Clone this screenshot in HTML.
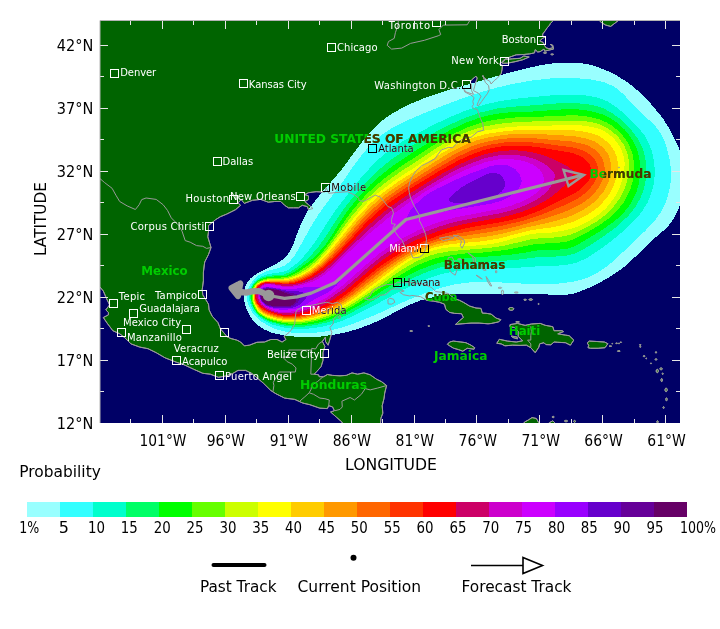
<!DOCTYPE html>
<html lang="en"><head><meta charset="utf-8"><title>Wind Speed Probability</title>
<style>html,body{margin:0;padding:0;background:#fff}svg{display:block}text{font-family:'DejaVu Sans','Liberation Sans',sans-serif}</style>
</head><body>
<svg width="720" height="629" viewBox="0 0 720 629">
<defs>
<clipPath id="mapclip"><rect x="100.0" y="20.5" width="580.0" height="402.5"/></clipPath>
<clipPath id="light"><path clip-rule="evenodd" d="M321.3,336.5 L300,337.1 L284,335.6 L271.7,332.6 L264.7,329.7 L258.7,325.7 L254.5,322 L251.3,318 L249.3,315 L246.2,308.7 L244.4,302 L243.9,298.3 L243.9,292.3 L245,287.3 L247.5,282 L250.2,278.7 L253.4,276 L259.3,272.3 L277.7,263 L283.7,258.7 L286.4,256 L290,251.3 L292.7,246 L298.6,229.7 L303.8,218 L308.2,210.3 L313.9,202.3 L323.9,190 L333.3,179.4 L341.7,169.4 L360.7,143.7 L366.9,136 L377.3,125.2 L382.2,120.7 L387.3,116.7 L393.7,112.6 L408.7,104.6 L426.7,97.2 L446.7,90.6 L495,76.6 L515,71.1 L536.7,66 L548.3,63.9 L557.3,62.9 L572.3,62.5 L584.3,63.6 L591,65 L598.3,67.2 L613.3,73.5 L626,81.3 L634.7,87.9 L641,93.5 L649.3,101.9 L662.1,117.3 L668.2,126.7 L674.4,138.3 L678.4,147 L681.2,155.7 L683.4,165.3 L684.5,174.3 L684.1,188.3 L681.2,201.7 L678.9,208 L674.7,216.7 L671.5,222 L666,228.5 L652.9,239.7 L628,263.8 L619,270.9 L608.3,277.7 L600.3,282.3 L590.7,287.1 L582,290.7 L573.7,293.5 L565.3,295.1 L553,295.1 L547.7,294.5 L527.3,293.5 L506.3,293.8 L468.7,293.5 L448,294.5 L436,296.3 L419.7,300.7 L409.3,305 L378.3,320.7 L373,323.2 L360.3,328 L349.3,331.5 L336,334.4 L321.3,336.5Z M296,318 L286.7,318.1 L277,316.7 L267,313.4 L263.3,311.4 L260.3,309.1 L256.4,304 L255.2,301.3 L254.5,298.7 L254.7,292 L255.8,288.3 L257.6,285.3 L261,283 L266.3,281.6 L287.7,281.8 L293.3,280.8 L301,278.2 L311.3,272.7 L320.4,265.7 L330.7,255.8 L361,220.9 L371.3,210.3 L382,200.9 L389.7,195.1 L407.3,183.2 L416.3,177.8 L433,167 L455.7,153.6 L469.3,147.2 L478,144.1 L489.7,141 L502,138.9 L510.7,138.2 L518.7,137.8 L533,138.2 L571.7,141.5 L581.7,143.6 L587.7,145.5 L593.7,148.7 L598.8,153.3 L601.9,157.7 L603.3,161 L604.3,164.7 L604.7,168.7 L604.5,171.3 L603.2,178.3 L599.7,186 L598,188.7 L594.1,193.3 L589.4,198 L582.6,203 L576,206.7 L565.7,211.4 L549.7,217.1 L519,225.7 L502.7,229.7 L490.3,232 L452.7,237.6 L438,241.3 L426.3,245.2 L417.7,248.9 L407.7,254 L398,259.9 L381.3,271.6 L352.7,294.4 L343,301 L333,306.9 L325,310.7 L314.3,314.6 L302,317.4 L296,318Z"/></clipPath>
</defs>
<rect width="720" height="629" fill="#ffffff"/>
<g clip-path="url(#mapclip)">
<rect x="100.0" y="20.5" width="580.0" height="402.5" fill="#000066"/>
<path d="M99.5,17.6 L554,17.6 L553.7,20.1 L550.3,23.6 L549.6,25.1 L547.1,27.9 L545.2,30.8 L542.7,34 L542.7,36.2 L545,37.1 L542.1,38.7 L539.8,40.9 L543.3,42.5 L544.6,45.6 L546.1,47.8 L549,48.7 L552.8,47.8 L551.8,44.9 L550,44.4 L552.8,45.3 L553.5,49.1 L549,50.1 L544.6,51.2 L544,49.1 L540.2,51.6 L537.7,52 L535.2,49.7 L534.5,52.9 L529.5,53.9 L523.8,54.5 L516.3,54.8 L511.2,56.6 L506.8,58.2 L503.3,60.4 L501.8,62.3 L499.3,64.2 L502.4,65.2 L502.1,69.2 L501.2,73.6 L497.4,78.1 L494.2,80.6 L491.1,84 L489.8,81.2 L486.1,79.3 L482.9,76.8 L482.9,75.5 L484.2,79.3 L485.4,82.5 L488.6,85.6 L489.2,90 L487.3,93.8 L484.8,97 L481.7,101.4 L478.5,105.8 L477,105.2 L478.5,101.4 L481,96.3 L478.5,93.2 L473.5,90.7 L474.7,86.2 L476,81.8 L477.2,78.1 L476,76.2 L472.2,79.3 L470.3,81.8 L471.6,85.6 L471.6,90.7 L473.5,94.4 L465.9,91.9 L464,89.4 L464.7,91.9 L471,95.1 L474.1,97.6 L472.8,101.4 L473.5,104.5 L472.2,106.4 L473.5,108.7 L477.2,109.3 L479.1,114.6 L480.4,118.4 L482.9,124 L483.5,130.3 L477.9,131.6 L471,137.3 L468.4,137.5 L462.1,139.2 L455.2,144.8 L452.7,147.7 L448.3,147.4 L441.4,149.9 L437.6,154.9 L435.1,158.7 L428.1,162.5 L421.9,165.6 L416.2,170.7 L412.4,176.3 L409.9,182 L408.6,187.7 L409.3,192.7 L410.5,197.8 L413.7,205.3 L418.1,212.9 L420,216 L419.3,220.4 L422.5,226.7 L425.6,234.3 L426.5,239.3 L425.6,246.9 L425,250.7 L422.5,255.1 L419.3,257.2 L413,258 L409.9,250.1 L404.9,246.9 L402.3,240.6 L398.6,236.8 L396,233 L392.9,228 L395.4,224.2 L391.6,223.6 L391.6,219.2 L393.5,212.9 L391.6,207.8 L387.9,206.6 L384.1,201.5 L380.3,197.1 L375.3,195.2 L371.5,197.1 L363.9,201.3 L358.9,200.5 L358.9,198.4 L355.1,195.2 L347.6,191.7 L336.2,192.5 L328.7,193.3 L326.2,187.7 L324.9,192.1 L316.1,191.7 L308.5,192.7 L304.8,194.6 L308.5,195.9 L308.5,199.6 L304.8,201.5 L308.5,204.7 L313,208.5 L308.5,209.7 L307.3,206.6 L302.2,205.3 L298.5,207.8 L293.4,207.8 L288.4,207.8 L284.6,205.3 L280.8,201.5 L274.6,201.5 L268.3,202.2 L260.7,199.4 L252.5,200.3 L244.3,203.4 L241.2,199.6 L238,202.8 L240.6,205.3 L235.5,209.7 L226.7,214.1 L220.4,216.7 L215.4,219.8 L211.6,223 L208.5,225.5 L208.5,231.8 L207.8,236.8 L209.7,243.1 L211,247.5 L208.5,254.5 L204.7,262 L203.4,272.1 L203.4,280.9 L202.2,289.7 L202.8,294.8 L205.9,299.8 L208.5,304.2 L209.1,309.9 L212.2,316.2 L217.9,322.5 L220.4,328.8 L224.2,333.2 L227.3,337 L231.1,338.6 L236.8,340.1 L240.6,342 L244.3,345.8 L249.4,345.2 L256.9,342.3 L264.5,342 L270.8,339.5 L277.1,339.5 L282.1,342 L285.9,339.5 L284,336.4 L289,332.6 L292.2,328.8 L294.7,323.8 L295.3,317.5 L296,311.8 L297.2,309.9 L303.5,306.4 L312.3,305.2 L319.9,303.6 L326.2,302.3 L332.5,303.6 L337.5,302.3 L341.3,304.9 L341.9,308.6 L338.8,313.7 L333.7,318.7 L333.1,323.8 L329.9,327.5 L331.8,332.6 L329.3,341.4 L328.1,345.2 L325.5,341.4 L325.5,337 L322.4,341.4 L324.9,346.4 L323,352.7 L323,360.3 L321.1,366.6 L316.7,371.6 L314.2,374.2 L318.6,374.8 L319.2,376.7 L323.7,376.7 L327.4,374.5 L332.5,375.4 L340,375.8 L346.3,375.4 L352,372.9 L357.6,374.2 L363.9,372.9 L370.2,374.8 L376.5,379.2 L381.6,381.7 L386.6,385.5 L384.7,393.1 L384.1,398.1 L382.2,405.7 L382.8,413.2 L380.9,418.3 L380.3,425.8 L343.8,425.8 L341.9,422 L336.2,417 L330.6,412 L334.4,410.7 L332.5,406.9 L328.7,405.7 L327.4,408.6 L319.9,408.2 L309.8,404.7 L302.9,403.1 L294.7,399.4 L284.6,398.1 L275.8,393.7 L270.8,390.5 L263.2,383 L251.9,373.5 L245.6,370.4 L238,370.4 L233,373.3 L225.4,376.1 L218.5,377.3 L210.3,374.2 L202.8,373.3 L193.3,369.1 L183.9,364.7 L176.3,362.2 L165,357.8 L156.2,352.7 L148,348.7 L139.8,347.1 L131,343.9 L124.7,337.6 L119.7,333.8 L112.8,330.7 L107.1,323.1 L103.3,317.5 L108.4,314.9 L108.4,312.4 L105.8,309.9 L109.6,304.9 L106.5,298.6 L103.3,291 L99.5,286.6Z M502.1,62.9 L505.6,59.5 L512.5,58.8 L520.1,58.3 L523.8,56 L529.2,57 L522.6,59.8 L515,61.7 L507.5,63.2 L502.4,63.3Z M598.1,17.6 L600.6,22 L605.7,25.1 L610.7,26.4 L615.7,22.6 L622,17.6Z M364.6,298.9 L370.2,296 L372.8,290.4 L377.8,287.5 L386.6,284.7 L394.2,284.1 L397.3,282.6 L406.7,282.8 L411.8,282.2 L415.6,283.8 L420.6,283.4 L426.9,285.3 L431.9,287.8 L435.7,291.6 L442,292.3 L448.3,293.5 L454.6,298.6 L459.6,300.4 L463.4,302.3 L469.7,306.1 L476,308 L481,308.4 L482.3,313.1 L486.1,313.3 L491.1,314.1 L496.1,318.1 L500.8,319.7 L498.7,321.9 L491.1,323.5 L488,323.8 L479.1,323.1 L471,323.1 L462.1,323.8 L455.5,324.4 L459.6,320.6 L463.4,317.5 L461.5,313.7 L454.6,313.4 L449.6,312.4 L445.8,309.3 L444.5,304.2 L439.5,302.3 L433.2,301.1 L426.9,300.4 L420.6,296.7 L411.8,295.4 L409.9,296 L403.6,294.8 L399.8,292.3 L404.2,291 L397.9,288.7 L391.6,289.1 L385.3,294.8 L380.3,295.2 L375.9,298.3 L370.2,300.2Z M387.9,299.8 L389.7,298.2 L393.5,299.2 L394.8,302.3 L391.6,304.2 L388.1,303.9Z M447.4,344.3 L449.6,342 L453.3,341.1 L460.9,342 L465.9,342.7 L471,345.2 L474.7,347.7 L474.1,349.2 L467.2,348.3 L462.8,351.2 L458.4,349.6 L453.3,348.1 L449.6,345.8Z M510,324.6 L517.5,323.4 L525.1,325.4 L531.4,324 L540.2,323.4 L545.2,325.3 L552.8,326.7 L554,330.7 L562.2,330.7 L563.5,331.6 L557.8,333.8 L565.4,335.1 L569.2,335.7 L573.8,340.1 L570.4,345.2 L565.4,342.7 L557.8,342.3 L554,342 L550.9,344.8 L545.9,344.6 L544,342.7 L539.6,343.9 L538.9,347.1 L535.2,352.7 L530.8,347.7 L526.4,345.2 L520.1,345.4 L512.5,345.2 L504.9,345.8 L501.2,343.9 L496.8,343.3 L499.3,339.3 L507.5,341.1 L516.3,342 L522.6,340.8 L518.2,336.4 L518.2,331.3 L514.4,327.5 L510,326.9Z M511.2,336 L516.9,337 L517.5,338.9 L512.5,337.4Z M587.2,343 L589.3,341.1 L596.9,341.5 L604.4,342 L607.9,343.7 L605,347.7 L598.1,348.3 L590.6,348.3 L588,347.7 L588.7,345.2Z M522.6,425.8 L524.5,422 L528.2,420.1 L532,417.6 L536.4,418.5 L538.7,422.7 L536.4,425.8Z M549,425.8 L549.3,422.7 L552.8,420.8 L555.3,423.3 L554.7,425.8Z M554.2,417 L554,416.6 L553.5,416.4 L552.8,416.4 L552.3,416.6 L552.1,417 L552.3,417.4 L552.8,417.6 L553.5,417.6 L554,417.4Z M567.6,421 L567.3,420.6 L566.5,420.4 L565.5,420.4 L564.7,420.6 L564.4,421 L564.7,421.4 L565.5,421.7 L566.5,421.7 L567.3,421.4Z M575.5,421.4 L575.3,420.8 L574.8,420.4 L574.3,420.4 L573.9,420.8 L573.7,421.4 L573.9,422 L574.3,422.4 L574.8,422.4 L575.3,422Z M658.2,421.8 L658.1,421.2 L657.8,420.8 L657.3,420.8 L657,421.2 L656.8,421.8 L657,422.4 L657.3,422.8 L657.8,422.8 L658.1,422.4Z M664.2,407.6 L664.1,407 L663.8,406.7 L663.4,406.7 L663.1,407 L663,407.6 L663.1,408.1 L663.4,408.4 L663.8,408.4 L664.1,408.1Z M667.2,399.4 L667,398.5 L666.7,397.9 L666.3,397.9 L665.9,398.5 L665.8,399.4 L665.9,400.2 L666.3,400.8 L666.7,400.8 L667,400.2Z M667.2,389.9 L667,388.9 L666.5,388.2 L665.7,388.2 L665.2,388.9 L665,389.9 L665.2,390.9 L665.7,391.6 L666.5,391.6 L667,390.9Z M662.4,380.1 L662.3,379.1 L661.9,378.6 L661.5,378.6 L661.1,379.1 L661,380.1 L661.1,381 L661.5,381.6 L661.9,381.6 L662.3,381Z M658.3,371 L658.1,370 L657.6,369.3 L657,369.3 L656.4,370 L656.2,371 L656.4,372 L657,372.7 L657.6,372.7 L658.1,372Z M662.4,368.9 L662.1,368.3 L661.5,368 L660.7,368 L660,368.3 L659.7,368.9 L660,369.4 L660.7,369.7 L661.5,369.7 L662.1,369.4Z M663.3,373.8 L663.2,373.4 L662.9,373.2 L662.5,373.2 L662.2,373.4 L662.1,373.8 L662.2,374.1 L662.5,374.4 L662.9,374.4 L663.2,374.1Z M651.3,363.4 L651.3,363.1 L651.1,362.9 L650.9,362.9 L650.7,363.1 L650.6,363.4 L650.7,363.8 L650.9,364 L651.1,364 L651.3,363.8Z M656.9,359.4 L656.7,359 L656.3,358.7 L655.8,358.7 L655.3,359 L655.1,359.4 L655.3,359.8 L655.8,360.1 L656.3,360.1 L656.7,359.8Z M656.6,352.4 L656.5,351.9 L656.2,351.7 L655.8,351.7 L655.5,351.9 L655.4,352.4 L655.5,352.8 L655.8,353 L656.2,353 L656.5,352.8Z M644.9,356.1 L644.8,355.8 L644.3,355.6 L643.8,355.6 L643.4,355.8 L643.2,356.1 L643.4,356.5 L643.8,356.7 L644.3,356.7 L644.8,356.5Z M646.6,358.4 L646.6,358.2 L646.3,358 L646.1,358 L645.9,358.2 L645.8,358.4 L645.9,358.7 L646.1,358.8 L646.3,358.8 L646.6,358.7Z M640.9,346.8 L640.8,346.5 L640.5,346.3 L640.1,346.3 L639.8,346.5 L639.7,346.8 L639.8,347.1 L640.1,347.3 L640.5,347.3 L640.8,347.1Z M641.1,344.9 L640.9,344.7 L640.5,344.6 L640,344.6 L639.6,344.7 L639.5,344.9 L639.6,345.1 L640,345.3 L640.5,345.3 L640.9,345.1Z M620.3,351.1 L620,350.8 L619.3,350.7 L618.5,350.7 L617.7,350.8 L617.5,351.1 L617.7,351.4 L618.5,351.5 L619.3,351.5 L620,351.4Z M617.5,343.3 L617.3,343.1 L616.9,343 L616.3,343 L615.9,343.1 L615.7,343.3 L615.9,343.5 L616.3,343.6 L616.9,343.6 L617.3,343.5Z M619.5,343.4 L619.4,343.2 L619.2,343.1 L618.8,343.1 L618.6,343.2 L618.5,343.4 L618.6,343.6 L618.8,343.8 L619.2,343.8 L619.4,343.6Z M621.5,342.3 L621.3,342.1 L621,342 L620.6,342 L620.2,342.1 L620.1,342.3 L620.2,342.4 L620.6,342.5 L621,342.5 L621.3,342.4Z M611.6,346.2 L611.4,346 L610.7,345.9 L609.9,345.9 L609.3,346 L609,346.2 L609.3,346.4 L609.9,346.5 L610.7,346.5 L611.4,346.4Z M612.7,343.7 L612.6,343.5 L612.4,343.4 L612.1,343.4 L611.9,343.5 L611.8,343.7 L611.9,343.8 L612.1,343.9 L612.4,343.9 L612.6,343.8Z M412.5,331.1 L412.2,330.8 L411.6,330.6 L410.7,330.6 L410.1,330.8 L409.8,331.1 L410.1,331.3 L410.7,331.5 L411.6,331.5 L412.2,331.3Z M429.7,326 L429.5,325.9 L429.1,325.8 L428.5,325.8 L428.1,325.9 L427.9,326 L428.1,326.2 L428.5,326.3 L429.1,326.3 L429.5,326.2Z M340.5,317.1 L340.4,316 L339.9,315.4 L339.4,315.4 L338.9,316 L338.8,317.1 L338.9,318.1 L339.4,318.8 L339.9,318.8 L340.4,318.1Z M513.9,308.9 L513.4,308.1 L512.1,307.6 L510.4,307.6 L509.1,308.1 L508.6,308.9 L509.1,309.7 L510.4,310.2 L512.1,310.2 L513.4,309.7Z M526.4,299.8 L526.2,299.5 L525.5,299.3 L524.7,299.3 L524,299.5 L523.8,299.8 L524,300.1 L524.7,300.3 L525.5,300.3 L526.2,300.1Z M532.5,299.6 L532.2,299.2 L531.3,298.9 L530.2,298.9 L529.3,299.2 L529,299.6 L529.3,300 L530.2,300.2 L531.3,300.2 L532.2,300Z M538.9,304 L538.8,303.6 L538.7,303.3 L538.5,303.3 L538.3,303.6 L538.2,304 L538.3,304.4 L538.5,304.6 L538.7,304.6 L538.8,304.4Z M518.2,292.5 L517.8,292.2 L516.9,292 L515.7,292 L514.7,292.2 L514.3,292.5 L514.7,292.8 L515.7,293 L516.9,293 L517.8,292.8Z M503.5,292.3 L503.3,291 L502.8,290.2 L502.1,290.2 L501.6,291 L501.4,292.3 L501.6,293.6 L502.1,294.4 L502.8,294.4 L503.3,293.6Z M501.7,287.8 L501.3,287.5 L500.5,287.3 L499.4,287.3 L498.5,287.5 L498.1,287.8 L498.5,288.2 L499.4,288.4 L500.5,288.4 L501.3,288.2Z M519.3,321.9 L519,321.7 L518.1,321.5 L517,321.5 L516.1,321.7 L515.8,321.9 L516.1,322.1 L517,322.2 L518.1,322.2 L519,322.1Z M619.5,167.5 L619.4,167.3 L619.1,167.2 L618.7,167.2 L618.4,167.3 L618.3,167.5 L618.4,167.7 L618.7,167.9 L619.1,167.9 L619.4,167.7Z M546.5,52.9 L546.2,52.5 L545.4,52.4 L544.5,52.4 L543.8,52.5 L543.5,52.9 L543.8,53.2 L544.5,53.4 L545.4,53.4 L546.2,53.2Z M553.5,54.4 L553.2,54.1 L552.6,54 L551.8,54 L551.1,54.1 L550.8,54.4 L551.1,54.6 L551.8,54.8 L552.6,54.8 L553.2,54.6Z" fill="#006400" stroke="#999999" stroke-width="1" stroke-linejoin="round"/>
<g shape-rendering="crispEdges">
<path d="M321.3,336.5 L300,337.1 L284,335.6 L271.7,332.6 L264.7,329.7 L258.7,325.7 L254.5,322 L251.3,318 L249.3,315 L246.2,308.7 L244.4,302 L243.9,298.3 L243.9,292.3 L245,287.3 L247.5,282 L250.2,278.7 L253.4,276 L259.3,272.3 L277.7,263 L283.7,258.7 L286.4,256 L290,251.3 L292.7,246 L298.6,229.7 L303.8,218 L308.2,210.3 L313.9,202.3 L323.9,190 L333.3,179.4 L341.7,169.4 L360.7,143.7 L366.9,136 L377.3,125.2 L382.2,120.7 L387.3,116.7 L393.7,112.6 L408.7,104.6 L426.7,97.2 L446.7,90.6 L495,76.6 L515,71.1 L536.7,66 L548.3,63.9 L557.3,62.9 L572.3,62.5 L584.3,63.6 L591,65 L598.3,67.2 L613.3,73.5 L626,81.3 L634.7,87.9 L641,93.5 L649.3,101.9 L662.1,117.3 L668.2,126.7 L674.4,138.3 L678.4,147 L681.2,155.7 L683.4,165.3 L684.5,174.3 L684.1,188.3 L681.2,201.7 L678.9,208 L674.7,216.7 L671.5,222 L666,228.5 L652.9,239.7 L628,263.8 L619,270.9 L608.3,277.7 L600.3,282.3 L590.7,287.1 L582,290.7 L573.7,293.5 L565.3,295.1 L553,295.1 L547.7,294.5 L527.3,293.5 L506.3,293.8 L468.7,293.5 L448,294.5 L436,296.3 L419.7,300.7 L409.3,305 L378.3,320.7 L373,323.2 L360.3,328 L349.3,331.5 L336,334.4 L321.3,336.5Z" fill="#99ffff"/>
<path d="M308.3,333.4 L301.7,333.5 L295.7,333.1 L286.7,332 L279,330.1 L270.7,327.2 L260,320.7 L255.7,316.5 L252.2,312.3 L248.1,304.3 L247,300.3 L246.6,297 L247.4,291.3 L249,286.7 L250.6,283.7 L254.6,278.7 L259.7,274.4 L268.7,270.5 L279.3,267.8 L284,265.9 L287.7,263.3 L290.8,260.3 L293.8,256.7 L297,251.7 L312.4,224 L318.3,214.7 L326.9,202.7 L343.7,180.3 L350.6,170 L359.9,157.3 L368.3,147.2 L374.3,141.2 L383.7,133.5 L392.7,127.6 L400,123.8 L412.7,118 L437.7,107.6 L460,99.2 L483.7,91.3 L497.3,87.5 L512,84.1 L531,80.6 L550,78.5 L567,77.9 L580.3,78.5 L592.3,79.6 L605.7,82.7 L613.3,86.3 L618.3,89.6 L623.1,94 L642,113.5 L654.1,124.7 L659.1,131 L660.9,134 L664.2,140.7 L666.4,146.3 L669.4,158.7 L670.5,166.3 L670.8,172.7 L670.5,183 L669.7,188.7 L667,199 L663.7,207 L661.7,210.9 L655.8,219.3 L645.3,230.8 L612.8,261.7 L604.7,268 L596.7,273.4 L591,276.2 L583.3,279.3 L573.3,281.7 L557,283.8 L534.3,284.2 L495.7,282.2 L478.3,282.2 L469,282.5 L455,284.3 L442.3,287.3 L426.3,292.6 L407.7,300.1 L374.7,315.2 L353,323.8 L342.3,327.4 L329.7,330.7 L323.7,331.8 L308.3,333.4Z" fill="#33ffff"/>
<path d="M304.7,329 L294,328.8 L287,328.1 L277.7,326.1 L272,324.4 L266.3,321.8 L258.3,316.4 L253.3,310.5 L250.7,305 L249.6,301.3 L248.9,296.7 L249.3,292.3 L250.3,288.3 L251.8,285 L254.3,281.7 L256.7,279.5 L261.3,276.4 L267.7,274.2 L284,271.7 L289.3,269.2 L296.5,263.7 L304.1,256 L311.7,246.6 L317.7,238 L328.3,221 L336.3,209.3 L350,191.3 L362.2,176.3 L372.1,165.7 L378.9,159 L385,153.7 L393,147.6 L400.7,142.5 L411.9,136 L436.7,123.3 L450.3,117 L463.7,111.4 L472.7,108.2 L488,103.7 L501,100.9 L520.7,98.2 L553,95.2 L571.7,94.5 L586.3,95.5 L596,97.2 L602.7,99.2 L608.7,102 L617.3,107.9 L623.3,112.9 L631,120.2 L640.4,130.3 L644.4,135.3 L647.3,140.2 L651.5,150 L653.8,160.3 L654.5,167.3 L654.5,177.3 L653.7,184 L651.3,193.3 L648,201.7 L642.1,211.3 L638.1,216.3 L634.2,220.7 L623.7,230.8 L610.3,241.8 L601,248.8 L587.5,257.7 L578,262.1 L570.7,264.1 L566.3,264.8 L555.7,265.8 L543.3,265.9 L517.3,267.8 L497.3,268.2 L468.7,269.5 L453,271.6 L442,274 L430.3,277.6 L412.3,285.3 L402.7,289.9 L371.3,307.1 L350.4,317.3 L341.3,321 L330.3,324.6 L323.3,326.4 L313.3,328.1 L304.7,329Z" fill="#00ffcc"/>
<path d="M304,326.7 L292,326.5 L282,325.3 L269.7,321.8 L264.7,319.4 L259.3,315.8 L254.5,310.3 L251.8,304.7 L250.9,301.3 L250.2,297 L250.3,292.7 L251.7,287.3 L253,284.8 L257.4,280.3 L260.5,278.3 L263,277.3 L270.3,275.6 L283.3,274.7 L288.7,272.7 L296.7,267.7 L305.3,260.8 L310.7,255.8 L319,246 L328,233.2 L333.3,224.4 L344.2,208.3 L358.9,190 L367.7,180.4 L377,171.3 L391.7,159.1 L411.3,146 L435.3,132.1 L448,125.5 L465.7,117.6 L480,112.6 L496.7,108.6 L511,106.9 L556.3,103.5 L568.7,103.2 L580,103.5 L588.3,104.3 L597.7,106.4 L604.7,108.9 L613,113.7 L619.7,118.6 L629,127.2 L637.1,137.7 L640,142.5 L643,149.3 L644,152.7 L645.7,161.3 L646.5,170.7 L646.1,177 L645,184.7 L642.6,193 L639.7,199.3 L634.7,208 L632.3,211 L628.4,215.7 L620.1,223.7 L615.3,227.7 L604.7,235.6 L595,242.2 L582.1,250 L574.7,253.5 L566,255.7 L556.3,256.5 L542.3,256.5 L514.3,260.1 L467.7,262.9 L451,265.3 L440,267.6 L428.7,271.3 L413,277.9 L400.3,284.5 L369.7,302.9 L347.3,314.9 L339,318.4 L327.7,322.3 L316,325 L304,326.7Z" fill="#00ff66"/>
<path d="M303.7,325 L293.3,325.2 L287.3,324.8 L277.3,323 L268.3,320.2 L264,318 L259.7,315.1 L254.9,309.7 L252.5,304.3 L251.5,300.7 L250.9,296.3 L250.9,293 L252.3,287.3 L253.7,284.7 L255.3,282.9 L259.3,279.9 L261.3,278.9 L265.3,277.6 L268.3,276.9 L274,276.5 L284,276.4 L288.3,275 L294.2,272 L308.7,261.8 L312.8,258.3 L319,252.2 L325.4,244.7 L331.7,235.7 L337.5,226 L347.5,211 L357.7,198.2 L370.7,184.3 L382,174.2 L395,164.3 L418.4,148.7 L421.7,147 L437.7,137 L450.7,129.8 L467.3,122.1 L480.3,117.5 L490.3,115 L499.7,113.3 L507.7,112.5 L529.3,111.8 L561.3,109.5 L571,109.2 L579,109.5 L589,110.7 L602.3,114.3 L609.7,117.8 L616.7,122.3 L624.8,129.7 L629,135 L633.2,141.3 L635.9,146.7 L638.2,153 L640.1,162.7 L640.5,170 L640.1,176 L638.8,183.7 L636.4,192 L632.4,200.3 L629.3,205.7 L624.3,211.8 L617.5,218.7 L613.3,222.1 L601.7,230.3 L578.7,244.2 L572.3,247.2 L565.7,249.1 L555.3,249.8 L540.3,249.9 L525,252.7 L510.3,254.8 L466.3,258.2 L449.3,260.6 L436.3,263.6 L421.7,268.9 L411,273.8 L398,281 L359.4,305.3 L342.3,314.4 L328.7,319.8 L320.3,322.3 L315,323.4 L303.7,325Z" fill="#00ff00"/>
<path d="M302.3,323.5 L287.7,323.5 L282.7,322.8 L273.3,320.7 L267,318.4 L261.7,315.5 L259.2,313.7 L255.3,308.7 L253,303.7 L252,299.3 L251.8,294 L252.3,290.7 L253.1,287.3 L254.3,285.2 L258.3,281.5 L263.3,279.3 L270,277.9 L284.7,277.4 L289.3,276.2 L294.3,274.1 L298.3,271.9 L307.7,265.7 L314.3,260.2 L323.8,250.3 L334,236.7 L340.3,227 L351,212.3 L361.2,200 L366.5,194.3 L373.7,187.5 L385,178 L398.3,168.2 L434,144.8 L452.3,134.3 L469,126.8 L478.3,123.6 L486.7,121.4 L498,119.3 L515,117.5 L531,117.1 L570,115.3 L578,115.5 L585.7,116.3 L594.7,118 L600.7,119.8 L607.7,123 L613.4,126.7 L621,133.5 L625.3,139 L628.7,144.3 L631,149.7 L632.8,155 L634.1,163.7 L634.2,171.7 L632.5,182 L630.3,189.3 L628.1,194.3 L623.5,202.7 L619,208.4 L613.3,214.3 L608.7,218.4 L599,225.4 L587.3,232.4 L574.7,238.9 L569.3,240.8 L564.7,242 L554,243.1 L536.3,243.9 L509,249.4 L502,250.4 L483,252.5 L465.3,253.5 L451,255.3 L443,256.6 L434,258.8 L429.7,260.2 L418,265.1 L409,269.8 L396,277.7 L358.3,302.9 L345.3,310.3 L337.3,314.1 L327,318.1 L315.7,321.3 L302.3,323.5Z" fill="#66ff00"/>
<path d="M293,322.4 L285.7,322.1 L277.3,320.7 L273.7,319.7 L266.3,317.1 L262.7,315.2 L259.7,312.8 L257,310 L255.3,307 L253.6,303 L252.6,298.7 L252.5,294 L253.2,290 L253.9,287.7 L255.3,285.2 L259.7,281.7 L263.7,280.2 L269,279.2 L283,278.8 L289.7,277.4 L295,275.5 L299.7,273.2 L308.3,267.8 L316.3,261.1 L325.3,251.4 L336.1,237.3 L349.9,218.3 L363.5,202.3 L375.7,190.5 L387.1,181.3 L399.3,172.6 L437.3,147.5 L453.7,137.9 L463.7,133.3 L474,129.4 L485,126.3 L500.7,123.6 L515,122.2 L540.3,121.2 L550.7,121.2 L563.7,120.5 L578.3,120.5 L586,121.3 L593.7,122.7 L599,124.2 L605.3,126.9 L610.7,130.3 L615.8,134.7 L618.7,137.6 L624.1,145.3 L627.7,154.3 L629.2,163.7 L628.7,173.7 L627.3,180.3 L624.7,188.7 L619.3,199.2 L611.8,208.7 L606.7,213.8 L601.3,218.1 L596,221.9 L586,227.7 L576.3,232.4 L570,234.7 L564.7,236.1 L554.3,237.5 L540.3,238.2 L531.7,239.2 L505.3,245.4 L491.3,247.7 L449,251.3 L436.3,253.7 L429,255.9 L416.7,261.3 L406.3,267 L394,275.1 L379.7,285.6 L357.7,300.7 L347.1,307 L337,312.1 L326.3,316.5 L315.7,319.7 L301.3,322.1 L293,322.4Z" fill="#ccff00"/>
<path d="M292.3,321.4 L286,321.1 L274.3,319 L267.3,316.7 L262.3,314.2 L259.5,312 L257,309 L254.9,305 L253.3,299.3 L253.2,294.3 L253.6,291 L254.4,288 L255.9,285.7 L259.3,282.7 L264,280.9 L270.7,279.9 L283.7,279.5 L290.7,278.3 L300.3,274.7 L309,269.7 L317.4,262.7 L322.5,257.3 L328.4,250.3 L344,230 L355.7,215.6 L367.7,202.2 L377.9,193 L395.7,179.7 L417.6,165.7 L439.3,150.7 L455.7,140.9 L465,136.6 L475,133.1 L486.3,130.3 L506,127.3 L527.3,125.8 L577.7,125.2 L583.3,125.6 L592.3,127 L599.7,129.1 L604.3,131.3 L608.3,133.9 L613.8,138.3 L620.4,147.3 L623.4,155 L624.5,161.7 L624.5,165.7 L623.8,173.3 L622.4,179.3 L619.9,187 L614.7,197.2 L609,204.7 L605.5,208.7 L599.6,214 L588.7,221.4 L581.3,225.1 L575,227.7 L563.7,230.7 L552,232.5 L535.7,233.5 L528.7,234.6 L516.3,237.6 L504.3,241.3 L491.3,244 L481.7,245.1 L449,247.3 L439.7,248.7 L427.3,252.2 L422.3,254.3 L411,259.9 L404,264.4 L392,272.9 L379,283 L361,296.1 L345.2,306 L334.3,311.4 L326,314.9 L315.7,318.2 L310,319.4 L299,321.1 L292.3,321.4Z" fill="#ffff00"/>
<path d="M292,320.4 L280.3,319.4 L274.3,318 L266.7,315.4 L262.7,313.3 L259.2,310.7 L255,304.1 L253.5,299 L253.5,294.3 L254,291 L255,287.6 L256.3,285.5 L259.3,283 L264,281.3 L271.3,280.2 L276.3,280.5 L283.7,280.1 L290.3,279.4 L295.7,277.8 L300.7,275.7 L309.7,270.7 L318.4,263.7 L325,256.8 L330.1,251 L357.9,216.7 L370.5,203.3 L379.7,195.2 L397.7,182 L419,168.5 L441.3,153.5 L457.3,144.3 L466,140.3 L476,136.7 L486.7,133.9 L507,130.9 L521.3,129.9 L524.3,130.2 L528,129.8 L546.7,129.8 L560.3,130.5 L565.7,130.2 L575.3,130.5 L581.7,131.3 L590.3,132.9 L598.7,135.9 L602.3,138 L608,142.5 L610.5,145.3 L614.3,150.9 L616.3,155.7 L617.4,160 L617.8,163 L617.8,169 L616.3,177.7 L613.9,185.3 L610.4,192.3 L608.5,195.3 L600.7,204.8 L595,209.7 L585.3,216.1 L573,221.8 L559.7,225.8 L549.7,227.7 L535,229.6 L528,230.9 L498.3,238.7 L480.3,241.5 L462.7,242.9 L447.7,244.6 L435,247.3 L426.7,250.1 L421.3,252.3 L410,257.9 L400.7,263.8 L390.7,270.9 L377.7,281 L355.6,297.3 L345.3,303.9 L337,308.4 L325.7,313.5 L314.7,317.3 L308,318.7 L298.7,320.1 L292,320.4Z" fill="#ffcc00"/>
<path d="M291.7,319.3 L280.3,318.4 L274,316.9 L268.3,315 L264.3,313.1 L259.7,309.7 L255.6,304 L253.9,298.7 L253.9,294.7 L254.4,291 L255.5,287.7 L256.8,285.7 L258.7,284 L261,282.6 L266,281.3 L270,280.8 L283.7,281.1 L288.7,280.7 L292.3,279.9 L300.3,277.2 L310,272 L319.4,264.7 L326.5,257.7 L331.3,252.5 L359.9,218.3 L372.3,205.5 L381,197.9 L388.3,192.3 L405.4,180.7 L443.3,156.5 L454,150.3 L468.3,143.5 L477,140.3 L487.7,137.6 L499.3,135.6 L508,134.5 L529.7,133.8 L539.3,134.5 L542.3,134.2 L575,136.2 L587,138.7 L594,141.1 L598.4,143.7 L604,148.5 L608,154 L610,159 L611.2,165.3 L611.1,170.3 L610.4,175 L608.1,183 L603.7,191.3 L597.3,199.1 L591,204.8 L582,210.7 L569.3,216.6 L557.7,220.4 L546.3,223.3 L527,227.3 L504.3,233.3 L488.3,236.4 L447.7,241.6 L434,245.1 L426,247.8 L421,249.9 L408.3,256.3 L398.7,262.3 L388.2,269.7 L354.3,295.6 L344,302.6 L336,307.1 L324.7,312.4 L314.3,315.9 L300.3,318.8 L291.7,319.3Z" fill="#ff9900"/>
<path d="M296,318 L286.7,318.1 L277,316.7 L267,313.4 L263.3,311.4 L260.3,309.1 L256.4,304 L255.2,301.3 L254.5,298.7 L254.7,292 L255.8,288.3 L257.6,285.3 L261,283 L266.3,281.6 L287.7,281.8 L293.3,280.8 L301,278.2 L311.3,272.7 L320.4,265.7 L330.7,255.8 L361,220.9 L371.3,210.3 L382,200.9 L389.7,195.1 L407.3,183.2 L416.3,177.8 L433,167 L455.7,153.6 L469.3,147.2 L478,144.1 L489.7,141 L502,138.9 L510.7,138.2 L518.7,137.8 L533,138.2 L571.7,141.5 L581.7,143.6 L587.7,145.5 L593.7,148.7 L598.8,153.3 L601.9,157.7 L603.3,161 L604.3,164.7 L604.7,168.7 L604.5,171.3 L603.2,178.3 L599.7,186 L598,188.7 L594.1,193.3 L589.4,198 L582.6,203 L576,206.7 L565.7,211.4 L549.7,217.1 L519,225.7 L502.7,229.7 L490.3,232 L452.7,237.6 L438,241.3 L426.3,245.2 L417.7,248.9 L407.7,254 L398,259.9 L381.3,271.6 L352.7,294.4 L343,301 L333,306.9 L325,310.7 L314.3,314.6 L302,317.4 L296,318Z" fill="#ff6600"/>
<path d="M295.7,317 L286.3,317.1 L275.7,315.3 L267.3,312.4 L264,310.7 L260.7,308.1 L257,303.7 L254.9,298.7 L255,292.3 L256.1,288.7 L257.7,286 L261.3,283.2 L266.7,281.9 L287,282.8 L293.7,281.8 L301.7,279.3 L311.2,274.3 L317.3,270 L325.3,263.4 L332.4,256.7 L344.1,244 L363.2,222.3 L372.9,212.7 L384,203 L392,197.1 L408.3,186.3 L435.7,169.3 L457.2,157 L471.3,150.5 L479.7,147.5 L490,144.7 L506,142.2 L519.3,141.8 L529,142.2 L541.3,143.2 L573.7,147.6 L582.7,150.3 L586.3,152.1 L591,155.5 L594.1,158.7 L595.6,161 L597.7,166.3 L598.1,171 L597.1,176.7 L593.9,183.7 L586.3,192.4 L579.7,197.4 L572.8,201.3 L563.3,205.7 L543,214.1 L522,221 L501,226 L456.3,233.7 L445,236.4 L426.3,242.6 L413.6,248.3 L406,252.3 L395,259 L379.3,270 L347.8,295.3 L341.7,299.7 L330.7,306.4 L322,310.4 L312.3,313.8 L301.3,316.4 L295.7,317Z" fill="#ff3300"/>
<path d="M295.3,316 L286.3,316.1 L279.3,315.3 L268,311.7 L264.3,309.8 L261,307.4 L257.3,303.3 L255.2,298.3 L255.3,292.3 L256.6,288.3 L258,286 L261.7,283.4 L266.7,282.2 L282,283.5 L289.3,283.5 L294,282.7 L302,280.3 L311.7,275.5 L320.7,269.1 L333.7,257.8 L346.1,244.7 L365.5,223.3 L374.3,214.9 L385.6,205.3 L393.4,199.7 L410.3,188.6 L439.3,171 L459,160.1 L473.7,153.6 L482.3,150.5 L490.7,148.3 L502.3,146.2 L518,145.5 L532.3,146.5 L540.7,147.6 L571.3,152.7 L580,155.9 L582,156.9 L587.5,161.7 L590,165.2 L591.7,170 L591.4,174 L590.6,176.7 L588.3,181 L582.3,187.7 L577.3,191.5 L569.7,195.9 L540.7,210 L535,212.5 L520.7,217.6 L505,221.4 L469,227.6 L455.3,230.7 L443.7,233.9 L426.3,240.2 L420.3,242.8 L405,250.3 L386.8,261.7 L378,267.9 L347.3,293.4 L340.6,298.3 L330.3,304.8 L320.7,309.6 L312,312.7 L301.3,315.3 L295.3,316Z" fill="#ff0000"/>
<path d="M290.3,314.7 L282.3,314.5 L275.7,313.2 L268.3,310.5 L265,308.8 L261,305.8 L258.3,302.3 L256.8,299.3 L256.2,297 L256.2,293.7 L256.6,291.7 L257.9,288.3 L259.3,286.2 L263,283.8 L267.3,282.9 L273,283.2 L281.7,284.5 L292.3,284.4 L298.7,283 L302.7,281.7 L313.7,276.7 L321.7,271.3 L332.3,262.1 L369,224.8 L376.7,217.9 L388,208.6 L405,196.6 L426,183.3 L440,174.8 L460,164.1 L473,158.3 L484.3,154.3 L501,150.9 L514.3,150.2 L523,150.9 L531.3,152.2 L539.3,154.1 L545,155.8 L553.7,159.1 L564,164.3 L569,167.3 L573.6,171.3 L573.6,173 L571.7,176.7 L569.1,180.3 L564.4,185.7 L559.7,190.1 L552.3,196 L547,199.7 L538,204.9 L531,208.2 L522.3,211.7 L511.7,215 L499.3,217.8 L468.3,223.2 L455.7,226 L440.7,230.3 L424,236.4 L410,243 L403,246.8 L393.3,252.7 L384.3,258.7 L372,268.2 L345.7,290.7 L330,301.7 L323.7,305.2 L311,310.6 L300.7,313.4 L290.3,314.7Z" fill="#cc0066"/>
<path d="M290.3,313 L282.3,313.1 L277.3,312.4 L273.3,311.3 L268,309 L264.3,306.8 L261.6,304.7 L259.6,302 L257.6,297 L257.7,292 L260,287.2 L261.7,285.6 L263.3,284.6 L265.3,283.9 L268.7,283.6 L281,285.5 L286.7,285.8 L292.3,285.7 L298.3,284.5 L304,282.9 L312,279.8 L316,277.7 L324.7,271.8 L330.2,267 L364.7,233.5 L385,215.6 L397.3,206.3 L410.8,197 L428,186 L449.3,173.6 L461.3,167.5 L469,164.1 L485,158.2 L497.7,155.5 L504,154.9 L513.7,154.8 L519,155.3 L527,156.7 L538,160.3 L543.7,163.3 L548.4,166.7 L553,171.6 L555,174.3 L555.1,176.3 L552.9,182.3 L551.4,185.3 L548.4,189.7 L544,194.4 L539,198.1 L533.3,201.4 L522,206.7 L513.7,209.7 L500.7,213.2 L479,217 L454.7,221.9 L439.3,226.5 L419,234.3 L408,239.7 L400.3,244 L390.3,250.3 L380.3,257.3 L363.3,271.2 L356.8,277.3 L343.3,288.8 L329,299.1 L319,304.7 L310.3,308.5 L300.3,311.5 L290.3,313Z" fill="#cc00cc"/>
<path d="M286,312.1 L277.7,311.5 L272,309.7 L266,306.7 L261.9,303.3 L258.6,297 L258.5,292.7 L260.6,288 L262.3,286.2 L265.3,284.6 L269.3,284.2 L281.7,286.5 L292.7,286.8 L295.3,286.2 L297.7,286.1 L307.7,283.4 L312.7,281.7 L317.3,279.4 L322.8,276 L332,268.5 L348,252.9 L360.3,241.5 L365.3,237.5 L366.7,235.9 L374.3,229.2 L379.3,225.5 L387.3,218.5 L412,200.3 L414.3,199.1 L425.6,191.3 L443,181 L462.7,171 L475.3,165.6 L486.3,161.9 L498.3,159.5 L501.7,159.2 L513,159.2 L515.7,159.8 L518.3,159.9 L525.7,161.6 L533.7,164.9 L539,168.9 L541.1,171.3 L543.1,175.3 L543.5,177 L543.5,181.7 L542.1,186.3 L539.3,190.5 L535.1,194 L530,197.4 L520,202.4 L516,203.6 L512,205.4 L505.3,207.4 L500.3,208.8 L453,217.9 L451.3,218.7 L448.3,219.3 L433.7,223.9 L418.3,230.1 L406,236.3 L396.7,241.6 L389,246.6 L379.2,253.7 L362.3,267.9 L358.3,271.8 L355.8,273.7 L354.7,275.1 L342,286.1 L327.4,297 L314.3,304.4 L308,307.1 L299.7,309.8 L289.3,311.8 L286,312.1Z" fill="#cc00ff"/>
<path d="M412.7,218.7 L408,218.6 L407.2,217 L408.1,214.3 L410.7,210.2 L415.5,204.3 L423.7,197 L429,193.3 L437.3,188.6 L452.3,181.3 L468.3,174.3 L490,166.3 L496.7,164.9 L503.7,164.5 L508,165.3 L515,168.9 L518.8,173 L520,175 L521.5,179.7 L521.5,182 L520,186.3 L519.1,188 L516,191.7 L513.3,194 L511,195.7 L503,200.1 L492.3,203.5 L449.7,210.5 L430,214.5 L412.7,218.7Z M286.7,309.7 L281.7,309.8 L274,308.8 L267.7,307 L265,305.5 L261.6,302 L259.3,297 L258.9,294 L260,290 L260.9,288.7 L263.7,286.9 L266.3,286.5 L279.7,288.5 L287.3,289.2 L295.3,288.8 L305.3,287.2 L310,286.9 L311.7,287.2 L323.3,287.1 L330.5,285 L333.3,283.5 L339.3,279.3 L340.3,278.9 L340.7,279.2 L340.4,280.3 L337.1,285 L332.1,289.7 L327.3,292.7 L314,299.6 L305,305.4 L300.3,307.4 L296.7,308.4 L286.7,309.7Z" fill="#9900ff"/>
<path d="M465.3,203.1 L458,203.2 L452.7,202.5 L450,201.5 L449,200.4 L448.9,199.7 L450,197.3 L452.7,194.5 L460.7,187.9 L467.7,183.6 L487.3,173.9 L491.3,172.9 L496,172.9 L499.3,174.3 L502.7,177.6 L504.7,181.7 L505.1,185 L503.7,189.1 L501.3,191.8 L499,193.7 L493.7,196.7 L487.7,198.7 L473,202.1 L465.3,203.1Z M289,308.4 L276.7,308.1 L269,306.7 L265.3,305.1 L261.6,301.3 L259.6,296.7 L259.5,293.3 L260.6,290.3 L261.3,289.3 L263.3,288.1 L267.3,287.2 L278.3,288.9 L288,290.8 L299,291.5 L306,293.3 L308.2,294.3 L307.7,295.7 L304.3,300.4 L301.1,303.7 L298.5,305.3 L294,307.4 L289,308.4Z" fill="#6600cc"/>
<path d="M291,306.7 L284.3,307.2 L272,306.5 L268.3,305.7 L266,304.7 L262.2,301.3 L260.9,299 L260.2,295.3 L260.2,293.3 L260.9,291.3 L262,290 L263.7,288.9 L267.3,288.2 L269.3,288.2 L277.7,289.6 L286.7,292.1 L294.3,293.6 L297.8,295 L299.5,296.7 L299.8,297.7 L299.1,300.3 L298,302.1 L294.3,305.4 L291,306.7Z" fill="#660099"/>
<path d="M288.7,306.1 L272.3,305.8 L266.3,304.4 L264.3,303.1 L262.7,301.5 L261.3,299 L260.5,296 L260.5,293.7 L261.1,292 L263.3,289.9 L265.3,289.3 L268.3,288.8 L273,289.2 L279,290.6 L295,296.3 L295.7,297 L296.2,298.3 L296.1,300 L295.4,302 L293,304.7 L290.7,305.7 L288.7,306.1Z" fill="#660066"/>
</g>
<g fill="none" stroke="#999999" stroke-width="1" stroke-linejoin="round">
<path d="M99.5,17.6 L554,17.6 L553.7,20.1 L550.3,23.6 L549.6,25.1 L547.1,27.9 L545.2,30.8 L542.7,34 L542.7,36.2 L545,37.1 L542.1,38.7 L539.8,40.9 L543.3,42.5 L544.6,45.6 L546.1,47.8 L549,48.7 L552.8,47.8 L551.8,44.9 L550,44.4 L552.8,45.3 L553.5,49.1 L549,50.1 L544.6,51.2 L544,49.1 L540.2,51.6 L537.7,52 L535.2,49.7 L534.5,52.9 L529.5,53.9 L523.8,54.5 L516.3,54.8 L511.2,56.6 L506.8,58.2 L503.3,60.4 L501.8,62.3 L499.3,64.2 L502.4,65.2 L502.1,69.2 L501.2,73.6 L497.4,78.1 L494.2,80.6 L491.1,84 L489.8,81.2 L486.1,79.3 L482.9,76.8 L482.9,75.5 L484.2,79.3 L485.4,82.5 L488.6,85.6 L489.2,90 L487.3,93.8 L484.8,97 L481.7,101.4 L478.5,105.8 L477,105.2 L478.5,101.4 L481,96.3 L478.5,93.2 L473.5,90.7 L474.7,86.2 L476,81.8 L477.2,78.1 L476,76.2 L472.2,79.3 L470.3,81.8 L471.6,85.6 L471.6,90.7 L473.5,94.4 L465.9,91.9 L464,89.4 L464.7,91.9 L471,95.1 L474.1,97.6 L472.8,101.4 L473.5,104.5 L472.2,106.4 L473.5,108.7 L477.2,109.3 L479.1,114.6 L480.4,118.4 L482.9,124 L483.5,130.3 L477.9,131.6 L471,137.3 L468.4,137.5 L462.1,139.2 L455.2,144.8 L452.7,147.7 L448.3,147.4 L441.4,149.9 L437.6,154.9 L435.1,158.7 L428.1,162.5 L421.9,165.6 L416.2,170.7 L412.4,176.3 L409.9,182 L408.6,187.7 L409.3,192.7 L410.5,197.8 L413.7,205.3 L418.1,212.9 L420,216 L419.3,220.4 L422.5,226.7 L425.6,234.3 L426.5,239.3 L425.6,246.9 L425,250.7 L422.5,255.1 L419.3,257.2 L413,258 L409.9,250.1 L404.9,246.9 L402.3,240.6 L398.6,236.8 L396,233 L392.9,228 L395.4,224.2 L391.6,223.6 L391.6,219.2 L393.5,212.9 L391.6,207.8 L387.9,206.6 L384.1,201.5 L380.3,197.1 L375.3,195.2 L371.5,197.1 L363.9,201.3 L358.9,200.5 L358.9,198.4 L355.1,195.2 L347.6,191.7 L336.2,192.5 L328.7,193.3 L326.2,187.7 L324.9,192.1 L316.1,191.7 L308.5,192.7 L304.8,194.6 L308.5,195.9 L308.5,199.6 L304.8,201.5 L308.5,204.7 L313,208.5 L308.5,209.7 L307.3,206.6 L302.2,205.3 L298.5,207.8 L293.4,207.8 L288.4,207.8 L284.6,205.3 L280.8,201.5 L274.6,201.5 L268.3,202.2 L260.7,199.4 L252.5,200.3 L244.3,203.4 L241.2,199.6 L238,202.8 L240.6,205.3 L235.5,209.7 L226.7,214.1 L220.4,216.7 L215.4,219.8 L211.6,223 L208.5,225.5 L208.5,231.8 L207.8,236.8 L209.7,243.1 L211,247.5 L208.5,254.5 L204.7,262 L203.4,272.1 L203.4,280.9 L202.2,289.7 L202.8,294.8 L205.9,299.8 L208.5,304.2 L209.1,309.9 L212.2,316.2 L217.9,322.5 L220.4,328.8 L224.2,333.2 L227.3,337 L231.1,338.6 L236.8,340.1 L240.6,342 L244.3,345.8 L249.4,345.2 L256.9,342.3 L264.5,342 L270.8,339.5 L277.1,339.5 L282.1,342 L285.9,339.5 L284,336.4 L289,332.6 L292.2,328.8 L294.7,323.8 L295.3,317.5 L296,311.8 L297.2,309.9 L303.5,306.4 L312.3,305.2 L319.9,303.6 L326.2,302.3 L332.5,303.6 L337.5,302.3 L341.3,304.9 L341.9,308.6 L338.8,313.7 L333.7,318.7 L333.1,323.8 L329.9,327.5 L331.8,332.6 L329.3,341.4 L328.1,345.2 L325.5,341.4 L325.5,337 L322.4,341.4 L324.9,346.4 L323,352.7 L323,360.3 L321.1,366.6 L316.7,371.6 L314.2,374.2 L318.6,374.8 L319.2,376.7 L323.7,376.7 L327.4,374.5 L332.5,375.4 L340,375.8 L346.3,375.4 L352,372.9 L357.6,374.2 L363.9,372.9 L370.2,374.8 L376.5,379.2 L381.6,381.7 L386.6,385.5 L384.7,393.1 L384.1,398.1 L382.2,405.7 L382.8,413.2 L380.9,418.3 L380.3,425.8 L343.8,425.8 L341.9,422 L336.2,417 L330.6,412 L334.4,410.7 L332.5,406.9 L328.7,405.7 L327.4,408.6 L319.9,408.2 L309.8,404.7 L302.9,403.1 L294.7,399.4 L284.6,398.1 L275.8,393.7 L270.8,390.5 L263.2,383 L251.9,373.5 L245.6,370.4 L238,370.4 L233,373.3 L225.4,376.1 L218.5,377.3 L210.3,374.2 L202.8,373.3 L193.3,369.1 L183.9,364.7 L176.3,362.2 L165,357.8 L156.2,352.7 L148,348.7 L139.8,347.1 L131,343.9 L124.7,337.6 L119.7,333.8 L112.8,330.7 L107.1,323.1 L103.3,317.5 L108.4,314.9 L108.4,312.4 L105.8,309.9 L109.6,304.9 L106.5,298.6 L103.3,291 L99.5,286.6Z M502.1,62.9 L505.6,59.5 L512.5,58.8 L520.1,58.3 L523.8,56 L529.2,57 L522.6,59.8 L515,61.7 L507.5,63.2 L502.4,63.3Z M598.1,17.6 L600.6,22 L605.7,25.1 L610.7,26.4 L615.7,22.6 L622,17.6Z M364.6,298.9 L370.2,296 L372.8,290.4 L377.8,287.5 L386.6,284.7 L394.2,284.1 L397.3,282.6 L406.7,282.8 L411.8,282.2 L415.6,283.8 L420.6,283.4 L426.9,285.3 L431.9,287.8 L435.7,291.6 L442,292.3 L448.3,293.5 L454.6,298.6 L459.6,300.4 L463.4,302.3 L469.7,306.1 L476,308 L481,308.4 L482.3,313.1 L486.1,313.3 L491.1,314.1 L496.1,318.1 L500.8,319.7 L498.7,321.9 L491.1,323.5 L488,323.8 L479.1,323.1 L471,323.1 L462.1,323.8 L455.5,324.4 L459.6,320.6 L463.4,317.5 L461.5,313.7 L454.6,313.4 L449.6,312.4 L445.8,309.3 L444.5,304.2 L439.5,302.3 L433.2,301.1 L426.9,300.4 L420.6,296.7 L411.8,295.4 L409.9,296 L403.6,294.8 L399.8,292.3 L404.2,291 L397.9,288.7 L391.6,289.1 L385.3,294.8 L380.3,295.2 L375.9,298.3 L370.2,300.2Z M387.9,299.8 L389.7,298.2 L393.5,299.2 L394.8,302.3 L391.6,304.2 L388.1,303.9Z M447.4,344.3 L449.6,342 L453.3,341.1 L460.9,342 L465.9,342.7 L471,345.2 L474.7,347.7 L474.1,349.2 L467.2,348.3 L462.8,351.2 L458.4,349.6 L453.3,348.1 L449.6,345.8Z M510,324.6 L517.5,323.4 L525.1,325.4 L531.4,324 L540.2,323.4 L545.2,325.3 L552.8,326.7 L554,330.7 L562.2,330.7 L563.5,331.6 L557.8,333.8 L565.4,335.1 L569.2,335.7 L573.8,340.1 L570.4,345.2 L565.4,342.7 L557.8,342.3 L554,342 L550.9,344.8 L545.9,344.6 L544,342.7 L539.6,343.9 L538.9,347.1 L535.2,352.7 L530.8,347.7 L526.4,345.2 L520.1,345.4 L512.5,345.2 L504.9,345.8 L501.2,343.9 L496.8,343.3 L499.3,339.3 L507.5,341.1 L516.3,342 L522.6,340.8 L518.2,336.4 L518.2,331.3 L514.4,327.5 L510,326.9Z M511.2,336 L516.9,337 L517.5,338.9 L512.5,337.4Z M587.2,343 L589.3,341.1 L596.9,341.5 L604.4,342 L607.9,343.7 L605,347.7 L598.1,348.3 L590.6,348.3 L588,347.7 L588.7,345.2Z M522.6,425.8 L524.5,422 L528.2,420.1 L532,417.6 L536.4,418.5 L538.7,422.7 L536.4,425.8Z M549,425.8 L549.3,422.7 L552.8,420.8 L555.3,423.3 L554.7,425.8Z M554.2,417 L554,416.6 L553.5,416.4 L552.8,416.4 L552.3,416.6 L552.1,417 L552.3,417.4 L552.8,417.6 L553.5,417.6 L554,417.4Z M567.6,421 L567.3,420.6 L566.5,420.4 L565.5,420.4 L564.7,420.6 L564.4,421 L564.7,421.4 L565.5,421.7 L566.5,421.7 L567.3,421.4Z M575.5,421.4 L575.3,420.8 L574.8,420.4 L574.3,420.4 L573.9,420.8 L573.7,421.4 L573.9,422 L574.3,422.4 L574.8,422.4 L575.3,422Z M658.2,421.8 L658.1,421.2 L657.8,420.8 L657.3,420.8 L657,421.2 L656.8,421.8 L657,422.4 L657.3,422.8 L657.8,422.8 L658.1,422.4Z M664.2,407.6 L664.1,407 L663.8,406.7 L663.4,406.7 L663.1,407 L663,407.6 L663.1,408.1 L663.4,408.4 L663.8,408.4 L664.1,408.1Z M667.2,399.4 L667,398.5 L666.7,397.9 L666.3,397.9 L665.9,398.5 L665.8,399.4 L665.9,400.2 L666.3,400.8 L666.7,400.8 L667,400.2Z M667.2,389.9 L667,388.9 L666.5,388.2 L665.7,388.2 L665.2,388.9 L665,389.9 L665.2,390.9 L665.7,391.6 L666.5,391.6 L667,390.9Z M662.4,380.1 L662.3,379.1 L661.9,378.6 L661.5,378.6 L661.1,379.1 L661,380.1 L661.1,381 L661.5,381.6 L661.9,381.6 L662.3,381Z M658.3,371 L658.1,370 L657.6,369.3 L657,369.3 L656.4,370 L656.2,371 L656.4,372 L657,372.7 L657.6,372.7 L658.1,372Z M662.4,368.9 L662.1,368.3 L661.5,368 L660.7,368 L660,368.3 L659.7,368.9 L660,369.4 L660.7,369.7 L661.5,369.7 L662.1,369.4Z M663.3,373.8 L663.2,373.4 L662.9,373.2 L662.5,373.2 L662.2,373.4 L662.1,373.8 L662.2,374.1 L662.5,374.4 L662.9,374.4 L663.2,374.1Z M651.3,363.4 L651.3,363.1 L651.1,362.9 L650.9,362.9 L650.7,363.1 L650.6,363.4 L650.7,363.8 L650.9,364 L651.1,364 L651.3,363.8Z M656.9,359.4 L656.7,359 L656.3,358.7 L655.8,358.7 L655.3,359 L655.1,359.4 L655.3,359.8 L655.8,360.1 L656.3,360.1 L656.7,359.8Z M656.6,352.4 L656.5,351.9 L656.2,351.7 L655.8,351.7 L655.5,351.9 L655.4,352.4 L655.5,352.8 L655.8,353 L656.2,353 L656.5,352.8Z M644.9,356.1 L644.8,355.8 L644.3,355.6 L643.8,355.6 L643.4,355.8 L643.2,356.1 L643.4,356.5 L643.8,356.7 L644.3,356.7 L644.8,356.5Z M646.6,358.4 L646.6,358.2 L646.3,358 L646.1,358 L645.9,358.2 L645.8,358.4 L645.9,358.7 L646.1,358.8 L646.3,358.8 L646.6,358.7Z M640.9,346.8 L640.8,346.5 L640.5,346.3 L640.1,346.3 L639.8,346.5 L639.7,346.8 L639.8,347.1 L640.1,347.3 L640.5,347.3 L640.8,347.1Z M641.1,344.9 L640.9,344.7 L640.5,344.6 L640,344.6 L639.6,344.7 L639.5,344.9 L639.6,345.1 L640,345.3 L640.5,345.3 L640.9,345.1Z M620.3,351.1 L620,350.8 L619.3,350.7 L618.5,350.7 L617.7,350.8 L617.5,351.1 L617.7,351.4 L618.5,351.5 L619.3,351.5 L620,351.4Z M617.5,343.3 L617.3,343.1 L616.9,343 L616.3,343 L615.9,343.1 L615.7,343.3 L615.9,343.5 L616.3,343.6 L616.9,343.6 L617.3,343.5Z M619.5,343.4 L619.4,343.2 L619.2,343.1 L618.8,343.1 L618.6,343.2 L618.5,343.4 L618.6,343.6 L618.8,343.8 L619.2,343.8 L619.4,343.6Z M621.5,342.3 L621.3,342.1 L621,342 L620.6,342 L620.2,342.1 L620.1,342.3 L620.2,342.4 L620.6,342.5 L621,342.5 L621.3,342.4Z M611.6,346.2 L611.4,346 L610.7,345.9 L609.9,345.9 L609.3,346 L609,346.2 L609.3,346.4 L609.9,346.5 L610.7,346.5 L611.4,346.4Z M612.7,343.7 L612.6,343.5 L612.4,343.4 L612.1,343.4 L611.9,343.5 L611.8,343.7 L611.9,343.8 L612.1,343.9 L612.4,343.9 L612.6,343.8Z M412.5,331.1 L412.2,330.8 L411.6,330.6 L410.7,330.6 L410.1,330.8 L409.8,331.1 L410.1,331.3 L410.7,331.5 L411.6,331.5 L412.2,331.3Z M429.7,326 L429.5,325.9 L429.1,325.8 L428.5,325.8 L428.1,325.9 L427.9,326 L428.1,326.2 L428.5,326.3 L429.1,326.3 L429.5,326.2Z M340.5,317.1 L340.4,316 L339.9,315.4 L339.4,315.4 L338.9,316 L338.8,317.1 L338.9,318.1 L339.4,318.8 L339.9,318.8 L340.4,318.1Z M513.9,308.9 L513.4,308.1 L512.1,307.6 L510.4,307.6 L509.1,308.1 L508.6,308.9 L509.1,309.7 L510.4,310.2 L512.1,310.2 L513.4,309.7Z M526.4,299.8 L526.2,299.5 L525.5,299.3 L524.7,299.3 L524,299.5 L523.8,299.8 L524,300.1 L524.7,300.3 L525.5,300.3 L526.2,300.1Z M532.5,299.6 L532.2,299.2 L531.3,298.9 L530.2,298.9 L529.3,299.2 L529,299.6 L529.3,300 L530.2,300.2 L531.3,300.2 L532.2,300Z M538.9,304 L538.8,303.6 L538.7,303.3 L538.5,303.3 L538.3,303.6 L538.2,304 L538.3,304.4 L538.5,304.6 L538.7,304.6 L538.8,304.4Z M518.2,292.5 L517.8,292.2 L516.9,292 L515.7,292 L514.7,292.2 L514.3,292.5 L514.7,292.8 L515.7,293 L516.9,293 L517.8,292.8Z M503.5,292.3 L503.3,291 L502.8,290.2 L502.1,290.2 L501.6,291 L501.4,292.3 L501.6,293.6 L502.1,294.4 L502.8,294.4 L503.3,293.6Z M501.7,287.8 L501.3,287.5 L500.5,287.3 L499.4,287.3 L498.5,287.5 L498.1,287.8 L498.5,288.2 L499.4,288.4 L500.5,288.4 L501.3,288.2Z M519.3,321.9 L519,321.7 L518.1,321.5 L517,321.5 L516.1,321.7 L515.8,321.9 L516.1,322.1 L517,322.2 L518.1,322.2 L519,322.1Z M619.5,167.5 L619.4,167.3 L619.1,167.2 L618.7,167.2 L618.4,167.3 L618.3,167.5 L618.4,167.7 L618.7,167.9 L619.1,167.9 L619.4,167.7Z M546.5,52.9 L546.2,52.5 L545.4,52.4 L544.5,52.4 L543.8,52.5 L543.5,52.9 L543.8,53.2 L544.5,53.4 L545.4,53.4 L546.2,53.2Z M553.5,54.4 L553.2,54.1 L552.6,54 L551.8,54 L551.1,54.1 L550.8,54.4 L551.1,54.6 L551.8,54.8 L552.6,54.8 L553.2,54.6Z"/>
<path d="M439.5,238.1 L443.3,240.6 L452.1,238.7 L454,237.4 L447,236.8Z M453.3,235.6 L458.4,235.6 L464,240 L464.7,243.1 L462.1,248.2 L460.3,245.6 L461.5,241.2 L457.7,237.4Z M448.3,257.6 L452.1,257 L455.2,263.3 L457.1,269.6 L455.2,275.2 L450.8,272.1 L447,264.5Z M457.7,258.9 L460.9,258.5 L461.1,259.5 L458.4,259.8Z M467.8,252.6 L469.7,253.8 L475.4,258.2 L475.4,263.3 L473.5,262 L472.8,257Z M480.4,263.9 L484.2,267.7 L486.1,270.2 L483.5,270.2 L481,265.8Z M476,275.2 L480.4,278.4 L482.3,279 L477.9,275.9Z M486.1,276.5 L488.6,280.3 L491.7,286 L490.5,286 L487.3,280.9Z M495.5,270.8 L496.8,270.8 L496.8,272.7 L495.5,272.7Z"/>
<path d="M99.5,178.2 L104.6,182.6 L112.1,188.3 L115.9,195.2 L119.7,201.5 L127.2,205.9 L135.4,209.5 L139.2,204.7 L141.7,199.6 L146.1,198 L156.2,199.4 L163.1,204.7 L167.5,210.4 L171.3,217.9 L178.9,225.5 L182,231.1 L185.2,240.6 L190.2,242.2 L196.5,245.6 L202.8,246.3 L206.6,248.4 L211,247.5 M273,391.4 L273.9,385.5 L273.3,382.4 L279,372 L295.3,372 L296,367.9 L292.2,364.1 L287.1,361.6 L282.7,357.1 L288.7,357.1 L288.7,350 L311.7,350 M311.7,350 L311.7,348.3 L315.5,349 L318.6,343.9 L322.4,341.4 M311.7,350 L310.8,374.2 L314.5,374.2 M323.4,376.4 L317.4,381.7 L311.7,384.9 L311.1,389.3 L309.2,392.8 L304.8,396.8 L299.7,401.2 M309.2,392.8 L313.6,394.3 L319.9,398.1 L324.9,398.7 L329.3,400 L328.7,405.7 M335,410.7 L340,409.4 L342.3,406.9 L341.9,401.2 L350.1,397.5 L354.5,400 L361.4,394.3 L365.2,388.6 L370.2,389.9 L377.8,388 L386.6,385.5 M530.8,326.3 L531.4,331.3 L530.8,335.7 L530.8,340.1 L527.6,340.1 L530.8,343.9 L530.8,347.3 M398.6,17.6 L397.9,25.1 L395.4,32.7 L394.2,38.4 L388.5,41.5 L387.2,45.3 L391.6,49.1 L401.7,48.1 L410.5,43.4 L424.4,40.3 L438.2,35.8 L440.7,34.6 L438.9,29.5 L443.3,25.1 L467.2,24.8 L471.6,17.6"/>
</g>
<g fill="none" stroke="#999999" stroke-linejoin="round" stroke-linecap="round">
<path stroke-width="3.2" stroke-linecap="butt" d="M268.6,295.5 L284.5,298.3 L297.2,296.9 L311.2,293.1 L335,282.7 L406,219.5 L582,175.3"/>
<path stroke-width="6.2" d="M240.2,283.6 L231.6,288.1 L238,296 L240.2,283.6 L238,291.5 L246.2,292.6 L252,291.4 L259,291 L268.6,295.5"/>
<path stroke-width="2.4" stroke-linejoin="miter" d="M584,175 L563.5,170 L568.5,186Z"/>
</g>
<circle cx="268.6" cy="295.5" r="5.8" fill="#999999"/>
<g><g fill="none" stroke="#ffffff" stroke-width="1" shape-rendering="crispEdges">
<rect x="110.5" y="69.5" width="8" height="8"/>
<rect x="239.5" y="79.5" width="8" height="8"/>
<rect x="327.5" y="43.5" width="8" height="8"/>
<rect x="432.5" y="18.5" width="8" height="8"/>
<rect x="537.5" y="36.5" width="8" height="8"/>
<rect x="500.5" y="57.5" width="8" height="8"/>
<rect x="462.5" y="80.5" width="8" height="8"/>
<rect x="368.5" y="144.5" width="8" height="8"/>
<rect x="213.5" y="157.5" width="8" height="8"/>
<rect x="229.5" y="195.5" width="8" height="8"/>
<rect x="296.5" y="192.5" width="8" height="8"/>
<rect x="321.5" y="183.5" width="8" height="8"/>
<rect x="205.5" y="222.5" width="8" height="8"/>
<rect x="420.5" y="244.5" width="8" height="8"/>
<rect x="393.5" y="278.5" width="8" height="8"/>
<rect x="302.5" y="306.5" width="8" height="8"/>
<rect x="198.5" y="290.5" width="8" height="8"/>
<rect x="109.5" y="299.5" width="8" height="8"/>
<rect x="129.5" y="309.5" width="8" height="8"/>
<rect x="182.5" y="325.5" width="8" height="8"/>
<rect x="117.5" y="328.5" width="8" height="8"/>
<rect x="220.5" y="328.5" width="8" height="8"/>
<rect x="172.5" y="356.5" width="8" height="8"/>
<rect x="215.5" y="371.5" width="8" height="8"/>
<rect x="320.5" y="349.5" width="8" height="8"/>
</g>
<g fill="#ffffff" font-size="10px">
<text x="120.2" y="75.8" text-anchor="start" textLength="36" lengthAdjust="spacing">Denver</text>
<text x="248.8" y="87.5" text-anchor="start" textLength="57.8" lengthAdjust="spacing">Kansas City</text>
<text x="337" y="51.2" text-anchor="start" textLength="40.5" lengthAdjust="spacing">Chicago</text>
<text x="430" y="28.8" text-anchor="end" textLength="41.25" lengthAdjust="spacing">Toronto</text>
<text x="536.2" y="42.5" text-anchor="end" textLength="34.5" lengthAdjust="spacing">Boston</text>
<text x="498.8" y="64.2" text-anchor="end" textLength="47.5" lengthAdjust="spacing">New York</text>
<text x="461.2" y="88.8" text-anchor="end" textLength="87" lengthAdjust="spacing">Washington D.C.</text>
<text x="378.2" y="152" text-anchor="start" textLength="35.5" lengthAdjust="spacing">Atlanta</text>
<text x="222.5" y="165" text-anchor="start" textLength="30.7" lengthAdjust="spacing">Dallas</text>
<text x="229.2" y="201.8" text-anchor="end" textLength="43.75" lengthAdjust="spacing">Houston</text>
<text x="295.8" y="200" text-anchor="end" textLength="65.75" lengthAdjust="spacing">New Orleans</text>
<text x="331.2" y="191.2" text-anchor="start" textLength="35" lengthAdjust="spacing">Mobile</text>
<text x="204.2" y="229.5" text-anchor="end" textLength="73.75" lengthAdjust="spacing">Corpus Christi</text>
<text x="418.8" y="251.8" text-anchor="end" textLength="29.5" lengthAdjust="spacing">Miami</text>
<text x="403" y="285.8" text-anchor="start" textLength="37.5" lengthAdjust="spacing">Havana</text>
<text x="311.7" y="313.7" text-anchor="start" textLength="35" lengthAdjust="spacing">Merida</text>
<text x="197" y="298.8" text-anchor="end" textLength="42" lengthAdjust="spacing">Tampico</text>
<text x="118.8" y="300" text-anchor="start" textLength="26.25" lengthAdjust="spacing">Tepic</text>
<text x="139.2" y="311.8" text-anchor="start" textLength="60.75" lengthAdjust="spacing">Guadalajara</text>
<text x="181.2" y="325.5" text-anchor="end" textLength="58.25" lengthAdjust="spacing">Mexico City</text>
<text x="127" y="340.5" text-anchor="start" textLength="54.75" lengthAdjust="spacing">Manzanillo</text>
<text x="218.8" y="351.8" text-anchor="end" textLength="45" lengthAdjust="spacing">Veracruz</text>
<text x="182" y="364.5" text-anchor="start" textLength="45.4" lengthAdjust="spacing">Acapulco</text>
<text x="225" y="379.5" text-anchor="start" textLength="67" lengthAdjust="spacing">Puerto Angel</text>
<text x="319.5" y="357.5" text-anchor="end" textLength="52.5" lengthAdjust="spacing">Belize City</text>
</g>
<g fill="#00cc00" font-size="12.5px" font-weight="bold">
<text x="274.2" y="142.5" textLength="196.5" lengthAdjust="spacingAndGlyphs">UNITED STATES OF AMERICA</text>
<text x="141.2" y="275" textLength="46.5" lengthAdjust="spacingAndGlyphs">Mexico</text>
<text x="443.8" y="269.2" textLength="61.5" lengthAdjust="spacingAndGlyphs">Bahamas</text>
<text x="425" y="300.8" textLength="32.5" lengthAdjust="spacingAndGlyphs">Cuba</text>
<text x="508.8" y="335" textLength="31.5" lengthAdjust="spacingAndGlyphs">Haiti</text>
<text x="434" y="360" textLength="53.5" lengthAdjust="spacingAndGlyphs">Jamaica</text>
<text x="300" y="388.8" textLength="67" lengthAdjust="spacingAndGlyphs">Honduras</text>
<text x="589.5" y="177.5" textLength="62" lengthAdjust="spacingAndGlyphs">Bermuda</text>
</g></g>
<g clip-path="url(#light)"><g fill="none" stroke="#000000" stroke-width="1" shape-rendering="crispEdges">
<rect x="110.5" y="69.5" width="8" height="8"/>
<rect x="239.5" y="79.5" width="8" height="8"/>
<rect x="327.5" y="43.5" width="8" height="8"/>
<rect x="432.5" y="18.5" width="8" height="8"/>
<rect x="537.5" y="36.5" width="8" height="8"/>
<rect x="500.5" y="57.5" width="8" height="8"/>
<rect x="462.5" y="80.5" width="8" height="8"/>
<rect x="368.5" y="144.5" width="8" height="8"/>
<rect x="213.5" y="157.5" width="8" height="8"/>
<rect x="229.5" y="195.5" width="8" height="8"/>
<rect x="296.5" y="192.5" width="8" height="8"/>
<rect x="321.5" y="183.5" width="8" height="8"/>
<rect x="205.5" y="222.5" width="8" height="8"/>
<rect x="420.5" y="244.5" width="8" height="8"/>
<rect x="393.5" y="278.5" width="8" height="8"/>
<rect x="302.5" y="306.5" width="8" height="8"/>
<rect x="198.5" y="290.5" width="8" height="8"/>
<rect x="109.5" y="299.5" width="8" height="8"/>
<rect x="129.5" y="309.5" width="8" height="8"/>
<rect x="182.5" y="325.5" width="8" height="8"/>
<rect x="117.5" y="328.5" width="8" height="8"/>
<rect x="220.5" y="328.5" width="8" height="8"/>
<rect x="172.5" y="356.5" width="8" height="8"/>
<rect x="215.5" y="371.5" width="8" height="8"/>
<rect x="320.5" y="349.5" width="8" height="8"/>
</g>
<g fill="#000000" font-size="10px">
<text x="120.2" y="75.8" text-anchor="start" textLength="36" lengthAdjust="spacing">Denver</text>
<text x="248.8" y="87.5" text-anchor="start" textLength="57.8" lengthAdjust="spacing">Kansas City</text>
<text x="337" y="51.2" text-anchor="start" textLength="40.5" lengthAdjust="spacing">Chicago</text>
<text x="430" y="28.8" text-anchor="end" textLength="41.25" lengthAdjust="spacing">Toronto</text>
<text x="536.2" y="42.5" text-anchor="end" textLength="34.5" lengthAdjust="spacing">Boston</text>
<text x="498.8" y="64.2" text-anchor="end" textLength="47.5" lengthAdjust="spacing">New York</text>
<text x="461.2" y="88.8" text-anchor="end" textLength="87" lengthAdjust="spacing">Washington D.C.</text>
<text x="378.2" y="152" text-anchor="start" textLength="35.5" lengthAdjust="spacing">Atlanta</text>
<text x="222.5" y="165" text-anchor="start" textLength="30.7" lengthAdjust="spacing">Dallas</text>
<text x="229.2" y="201.8" text-anchor="end" textLength="43.75" lengthAdjust="spacing">Houston</text>
<text x="295.8" y="200" text-anchor="end" textLength="65.75" lengthAdjust="spacing">New Orleans</text>
<text x="331.2" y="191.2" text-anchor="start" textLength="35" lengthAdjust="spacing">Mobile</text>
<text x="204.2" y="229.5" text-anchor="end" textLength="73.75" lengthAdjust="spacing">Corpus Christi</text>
<text x="418.8" y="251.8" text-anchor="end" textLength="29.5" lengthAdjust="spacing">Miami</text>
<text x="403" y="285.8" text-anchor="start" textLength="37.5" lengthAdjust="spacing">Havana</text>
<text x="311.7" y="313.7" text-anchor="start" textLength="35" lengthAdjust="spacing">Merida</text>
<text x="197" y="298.8" text-anchor="end" textLength="42" lengthAdjust="spacing">Tampico</text>
<text x="118.8" y="300" text-anchor="start" textLength="26.25" lengthAdjust="spacing">Tepic</text>
<text x="139.2" y="311.8" text-anchor="start" textLength="60.75" lengthAdjust="spacing">Guadalajara</text>
<text x="181.2" y="325.5" text-anchor="end" textLength="58.25" lengthAdjust="spacing">Mexico City</text>
<text x="127" y="340.5" text-anchor="start" textLength="54.75" lengthAdjust="spacing">Manzanillo</text>
<text x="218.8" y="351.8" text-anchor="end" textLength="45" lengthAdjust="spacing">Veracruz</text>
<text x="182" y="364.5" text-anchor="start" textLength="45.4" lengthAdjust="spacing">Acapulco</text>
<text x="225" y="379.5" text-anchor="start" textLength="67" lengthAdjust="spacing">Puerto Angel</text>
<text x="319.5" y="357.5" text-anchor="end" textLength="52.5" lengthAdjust="spacing">Belize City</text>
</g>
<g fill="#4d3300" font-size="12.5px" font-weight="bold">
<text x="274.2" y="142.5" textLength="196.5" lengthAdjust="spacingAndGlyphs">UNITED STATES OF AMERICA</text>
<text x="141.2" y="275" textLength="46.5" lengthAdjust="spacingAndGlyphs">Mexico</text>
<text x="443.8" y="269.2" textLength="61.5" lengthAdjust="spacingAndGlyphs">Bahamas</text>
<text x="425" y="300.8" textLength="32.5" lengthAdjust="spacingAndGlyphs">Cuba</text>
<text x="508.8" y="335" textLength="31.5" lengthAdjust="spacingAndGlyphs">Haiti</text>
<text x="434" y="360" textLength="53.5" lengthAdjust="spacingAndGlyphs">Jamaica</text>
<text x="300" y="388.8" textLength="67" lengthAdjust="spacingAndGlyphs">Honduras</text>
<text x="589.5" y="177.5" textLength="62" lengthAdjust="spacingAndGlyphs">Bermuda</text>
</g></g>
</g>
<g stroke="#e6e6e6" stroke-width="1" shape-rendering="crispEdges">
<path d="M130.5,20.5v4M130.5,423.0v-4"/>
<path d="M162.5,20.5v8M162.5,423.0v-8"/>
<path d="M193.5,20.5v4M193.5,423.0v-4"/>
<path d="M225.5,20.5v8M225.5,423.0v-8"/>
<path d="M256.5,20.5v4M256.5,423.0v-4"/>
<path d="M288.5,20.5v8M288.5,423.0v-8"/>
<path d="M319.5,20.5v4M319.5,423.0v-4"/>
<path d="M351.5,20.5v8M351.5,423.0v-8"/>
<path d="M382.5,20.5v4M382.5,423.0v-4"/>
<path d="M414.5,20.5v8M414.5,423.0v-8"/>
<path d="M445.5,20.5v4M445.5,423.0v-4"/>
<path d="M476.5,20.5v8M476.5,423.0v-8"/>
<path d="M508.5,20.5v4M508.5,423.0v-4"/>
<path d="M539.5,20.5v8M539.5,423.0v-8"/>
<path d="M571.5,20.5v4M571.5,423.0v-4"/>
<path d="M602.5,20.5v8M602.5,423.0v-8"/>
<path d="M634.5,20.5v4M634.5,423.0v-4"/>
<path d="M665.5,20.5v8M665.5,423.0v-8"/>
<path d="M100.0,391.5h4M680.0,391.5h-4"/>
<path d="M100.0,360.5h8M680.0,360.5h-8"/>
<path d="M100.0,328.5h4M680.0,328.5h-4"/>
<path d="M100.0,297.5h8M680.0,297.5h-8"/>
<path d="M100.0,265.5h4M680.0,265.5h-4"/>
<path d="M100.0,234.5h8M680.0,234.5h-8"/>
<path d="M100.0,202.5h4M680.0,202.5h-4"/>
<path d="M100.0,171.5h8M680.0,171.5h-8"/>
<path d="M100.0,139.5h4M680.0,139.5h-4"/>
<path d="M100.0,108.5h8M680.0,108.5h-8"/>
<path d="M100.0,76.5h4M680.0,76.5h-4"/>
<path d="M100.0,45.5h8M680.0,45.5h-8"/>
</g>
<path d="M100.0,423.0V20.5H680.0" fill="none" stroke="#b4b4b4" stroke-width="1"/>
<g fill="#000000" font-size="16px">
<text x="93.3" y="428.5" text-anchor="end" textLength="36.5" lengthAdjust="spacingAndGlyphs">12°N</text>
<text x="93.3" y="365.5" text-anchor="end" textLength="36.5" lengthAdjust="spacingAndGlyphs">17°N</text>
<text x="93.3" y="302.5" text-anchor="end" textLength="36.5" lengthAdjust="spacingAndGlyphs">22°N</text>
<text x="93.3" y="239.5" text-anchor="end" textLength="36.5" lengthAdjust="spacingAndGlyphs">27°N</text>
<text x="93.3" y="176.5" text-anchor="end" textLength="36.5" lengthAdjust="spacingAndGlyphs">32°N</text>
<text x="93.3" y="113.5" text-anchor="end" textLength="36.5" lengthAdjust="spacingAndGlyphs">37°N</text>
<text x="93.3" y="50.5" text-anchor="end" textLength="36.5" lengthAdjust="spacingAndGlyphs">42°N</text>
<text x="163" y="445.5" text-anchor="middle" textLength="47" lengthAdjust="spacingAndGlyphs">101°W</text>
<text x="225.9" y="445.5" text-anchor="middle" textLength="38.5" lengthAdjust="spacingAndGlyphs">96°W</text>
<text x="288.9" y="445.5" text-anchor="middle" textLength="38.5" lengthAdjust="spacingAndGlyphs">91°W</text>
<text x="351.9" y="445.5" text-anchor="middle" textLength="38.5" lengthAdjust="spacingAndGlyphs">86°W</text>
<text x="414.8" y="445.5" text-anchor="middle" textLength="38.5" lengthAdjust="spacingAndGlyphs">81°W</text>
<text x="477.8" y="445.5" text-anchor="middle" textLength="38.5" lengthAdjust="spacingAndGlyphs">76°W</text>
<text x="540.7" y="445.5" text-anchor="middle" textLength="38.5" lengthAdjust="spacingAndGlyphs">71°W</text>
<text x="603.6" y="445.5" text-anchor="middle" textLength="38.5" lengthAdjust="spacingAndGlyphs">66°W</text>
<text x="666.6" y="445.5" text-anchor="middle" textLength="38.5" lengthAdjust="spacingAndGlyphs">61°W</text>
<text transform="translate(46,219) rotate(-90)" text-anchor="middle" textLength="74" lengthAdjust="spacingAndGlyphs">LATITUDE</text>
<text x="391" y="470" text-anchor="middle" textLength="92" lengthAdjust="spacingAndGlyphs">LONGITUDE</text>
</g>
<g fill="#000000" font-size="16px">
<text x="19.3" y="476.7" textLength="81.5" lengthAdjust="spacingAndGlyphs">Probability</text>
<g shape-rendering="crispEdges">
<rect x="27" y="502" width="33" height="15" fill="#99ffff"/>
<rect x="60" y="502" width="33" height="15" fill="#33ffff"/>
<rect x="93" y="502" width="33" height="15" fill="#00ffcc"/>
<rect x="126" y="502" width="33" height="15" fill="#00ff66"/>
<rect x="159" y="502" width="33" height="15" fill="#00ff00"/>
<rect x="192" y="502" width="33" height="15" fill="#66ff00"/>
<rect x="225" y="502" width="33" height="15" fill="#ccff00"/>
<rect x="258" y="502" width="33" height="15" fill="#ffff00"/>
<rect x="291" y="502" width="33" height="15" fill="#ffcc00"/>
<rect x="324" y="502" width="33" height="15" fill="#ff9900"/>
<rect x="357" y="502" width="33" height="15" fill="#ff6600"/>
<rect x="390" y="502" width="33" height="15" fill="#ff3300"/>
<rect x="423" y="502" width="33" height="15" fill="#ff0000"/>
<rect x="456" y="502" width="33" height="15" fill="#cc0066"/>
<rect x="489" y="502" width="33" height="15" fill="#cc00cc"/>
<rect x="522" y="502" width="33" height="15" fill="#cc00ff"/>
<rect x="555" y="502" width="33" height="15" fill="#9900ff"/>
<rect x="588" y="502" width="33" height="15" fill="#6600cc"/>
<rect x="621" y="502" width="33" height="15" fill="#660099"/>
<rect x="654" y="502" width="33" height="15" fill="#660066"/>
</g>
<text x="19.3" y="533.3" textLength="20" lengthAdjust="spacingAndGlyphs">1%</text>
<text x="58.7" y="533.3">5</text>
<text x="88" y="533.3" textLength="17" lengthAdjust="spacingAndGlyphs">10</text>
<text x="120.8" y="533.3" textLength="17" lengthAdjust="spacingAndGlyphs">15</text>
<text x="153.7" y="533.3" textLength="17" lengthAdjust="spacingAndGlyphs">20</text>
<text x="186.6" y="533.3" textLength="17" lengthAdjust="spacingAndGlyphs">25</text>
<text x="219.4" y="533.3" textLength="17" lengthAdjust="spacingAndGlyphs">30</text>
<text x="252.2" y="533.3" textLength="17" lengthAdjust="spacingAndGlyphs">35</text>
<text x="285.1" y="533.3" textLength="17" lengthAdjust="spacingAndGlyphs">40</text>
<text x="318" y="533.3" textLength="17" lengthAdjust="spacingAndGlyphs">45</text>
<text x="350.8" y="533.3" textLength="17" lengthAdjust="spacingAndGlyphs">50</text>
<text x="383.7" y="533.3" textLength="17" lengthAdjust="spacingAndGlyphs">55</text>
<text x="416.5" y="533.3" textLength="17" lengthAdjust="spacingAndGlyphs">60</text>
<text x="449.4" y="533.3" textLength="17" lengthAdjust="spacingAndGlyphs">65</text>
<text x="482.2" y="533.3" textLength="17" lengthAdjust="spacingAndGlyphs">70</text>
<text x="515" y="533.3" textLength="17" lengthAdjust="spacingAndGlyphs">75</text>
<text x="547.9" y="533.3" textLength="17" lengthAdjust="spacingAndGlyphs">80</text>
<text x="580.8" y="533.3" textLength="17" lengthAdjust="spacingAndGlyphs">85</text>
<text x="613.6" y="533.3" textLength="17" lengthAdjust="spacingAndGlyphs">90</text>
<text x="646.5" y="533.3" textLength="17" lengthAdjust="spacingAndGlyphs">95</text>
<text x="680" y="533.3" textLength="36" lengthAdjust="spacingAndGlyphs">100%</text>
<text x="200" y="591.5" textLength="76.5" lengthAdjust="spacingAndGlyphs">Past Track</text>
<text x="297.5" y="591.5" textLength="123.5" lengthAdjust="spacingAndGlyphs">Current Position</text>
<text x="461.5" y="591.5" textLength="110" lengthAdjust="spacingAndGlyphs">Forecast Track</text>
</g>
<path d="M213.5,565H264.5" stroke="#000" stroke-width="4" stroke-linecap="round" fill="none"/>
<circle cx="353.5" cy="557.8" r="3" fill="#000"/>
<path d="M471,565.5H523M523,557.5L542.5,565.5L523,573.5Z" stroke="#000" stroke-width="1.6" fill="none" stroke-linejoin="miter"/>
</svg>
</body></html>
